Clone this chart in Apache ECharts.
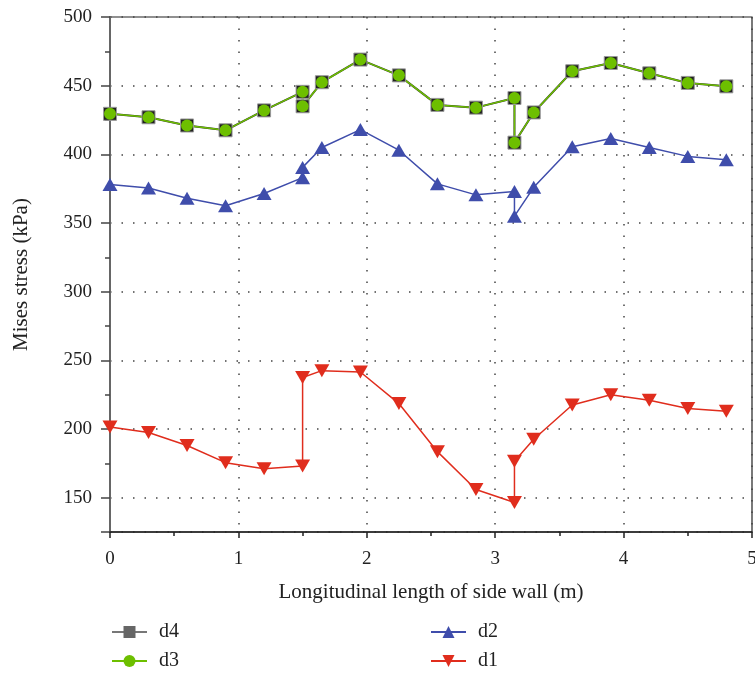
<!DOCTYPE html>
<html>
<head>
<meta charset="utf-8">
<script src="https://cdn.jsdelivr.net/npm/echarts@6/dist/echarts.min.js"></script>
<style>
  html, body { margin: 0; padding: 0; background: #fff; }
  #chart { width: 755px; height: 673px; }
</style>
</head>
<body>
<div id="chart"></div>
<script>
// positions along the side wall (m); repeated x = vertical jump in the curve
const xs = [0, 0.3, 0.6, 0.9, 1.2, 1.5, 1.5, 1.65, 1.95, 2.25, 2.55, 2.85, 3.15, 3.15, 3.3, 3.6, 3.9, 4.2, 4.5, 4.8];
const d4 = [429.5, 427, 421, 417.5, 432, 445.5, 435, 452.5, 469, 457.5, 436, 434, 441, 408.5, 430.5, 460.5, 466.5, 459, 452, 449.5];
const d3 = [429.5, 427, 421, 417.5, 432, 445.5, 435, 452.5, 469, 457.5, 436, 434, 441, 408.5, 430.5, 460.5, 466.5, 459, 452, 449.5];
const d2 = [378, 375.5, 368, 362.5, 371.5, 383, 390.5, 405, 418, 403, 378.5, 370.5, 373, 355, 376, 405.5, 411.5, 405, 398.5, 396];
const d1 = [201.5, 197.5, 188, 175.5, 171, 173, 237.5, 242.5, 241.5, 218.5, 183.5, 156, 146.5, 176.5, 192.5, 217.5, 225, 221, 215, 213];
const yTicks = [150, 200, 250, 300, 350, 400, 450, 500];

const font = 'Liberation Serif';
const pairs = vals => vals.map((v, i) => [xs[i], v]);

const chart = echarts.init(document.getElementById('chart'));

const dotted = { color: '#444', width: 1.5, type: [1.5, 10] };
const legendBase = {
  orient: 'vertical', top: 622, padding: 0, itemWidth: 35, itemHeight: 15, itemGap: 9,
  textStyle: { fontFamily: font, fontSize: 20, lineHeight: 20, color: '#222', padding: [0, 0, 0, 7] }
};

const option = {
  animation: false,
  textStyle: { fontFamily: font, color: '#222' },
  grid: {
    left: 110, right: 3, top: 17, bottom: 141,
    outerBoundsMode: 'none', containLabel: false,
    show: true, borderColor: '#222', borderWidth: 1.2, backgroundColor: 'transparent'
  },
  legend: [
    Object.assign({}, legendBase, {
      left: 111,
      data: [
        { name: 'd4', itemStyle: { color: '#666', borderWidth: 0 }, lineStyle: { color: '#777' } },
        'd3'
      ]
    }),
    Object.assign({}, legendBase, { left: 430, data: ['d2', 'd1'] })
  ],
  xAxis: {
    type: 'value', min: 0, max: 5, interval: 1,
    name: 'Longitudinal length of side wall (m)', nameLocation: 'middle', nameGap: 50,
    nameTextStyle: { fontFamily: font, fontSize: 21, color: '#222' },
    axisLine: { lineStyle: { color: '#222', width: 1.5 } },
    axisTick: { length: 6, lineStyle: { color: '#222', width: 1.5 } },
    minorTick: { show: true, splitNumber: 2, length: 4, lineStyle: { color: '#222', width: 1.5 } },
    axisLabel: { fontFamily: font, fontSize: 19, color: '#222', margin: 18 },
    splitLine: { show: true, lineStyle: dotted }
  },
  yAxis: {
    type: 'value', min: 125, max: 500, splitNumber: 7, minInterval: 50, maxInterval: 50,
    name: 'Mises stress (kPa)', nameLocation: 'middle', nameGap: 78,
    nameTextStyle: { fontFamily: font, fontSize: 21, color: '#222' },
    axisLine: { show: true, lineStyle: { color: '#666', width: 2 } },
    axisTick: { length: 9, lineStyle: { color: '#444', width: 1.5 } },
    minorTick: { show: true, splitNumber: 2, length: 5, lineStyle: { color: '#444', width: 1.5 } },
    axisLabel: {
      fontFamily: font, fontSize: 19, color: '#222', margin: 18,
      formatter: v => (yTicks.indexOf(v) >= 0 ? String(v) : '')
    },
    splitLine: { show: true, lineStyle: dotted }
  },
  series: [
    {
      name: 'd4', type: 'line', data: pairs(d4),
      symbol: 'rect', symbolSize: 13,
      lineStyle: { color: '#333', width: 2 },
      itemStyle: { color: '#222', borderColor: '#999', borderWidth: 1 }
    },
    {
      name: 'd3', type: 'line', data: pairs(d3),
      symbol: 'circle', symbolSize: 12,
      lineStyle: { color: '#6dbf00', width: 1.5 },
      itemStyle: { color: '#6dbf00' }
    },
    {
      name: 'd2', type: 'line', data: pairs(d2),
      symbol: 'triangle', symbolSize: [15, 13],
      lineStyle: { color: '#3f4dab', width: 1.5 },
      itemStyle: { color: '#3f4dab' }
    },
    {
      name: 'd1', type: 'line', data: pairs(d1),
      symbol: 'triangle', symbolRotate: 180, symbolSize: [15, 13],
      lineStyle: { color: '#e02d1d', width: 1.5 },
      itemStyle: { color: '#e02d1d' }
    }
  ]
};

chart.setOption(option);
</script>
</body>
</html>
